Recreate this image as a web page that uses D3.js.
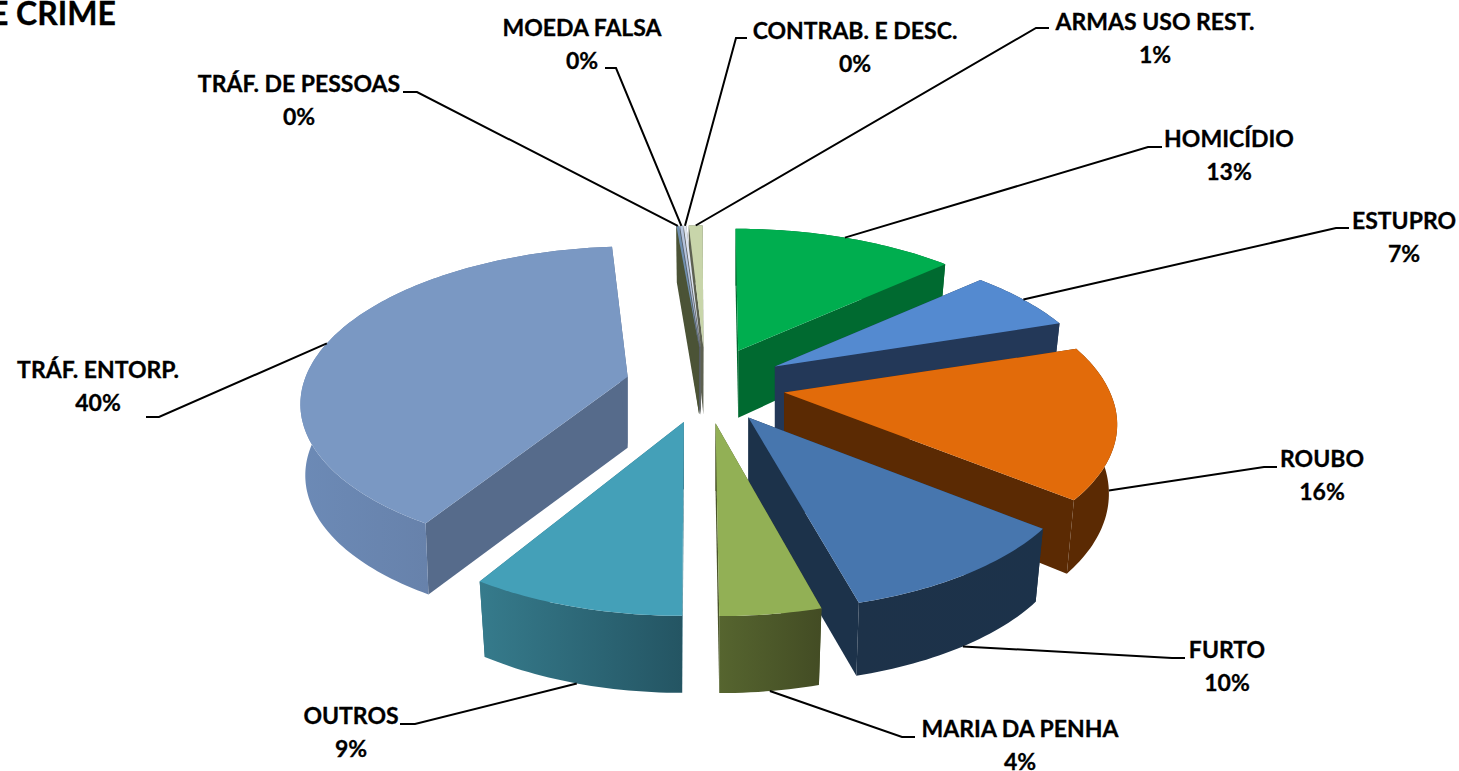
<!DOCTYPE html>
<html><head><meta charset="utf-8">
<script src="https://cdnjs.cloudflare.com/ajax/libs/d3/7.8.5/d3.min.js"></script>
<style>html,body{margin:0;padding:0;background:#fff;overflow:hidden}svg{display:block}
text{font-family:Lato,"Open Sans",sans-serif;font-weight:700;fill:#000;stroke:#000;stroke-width:.3px}</style>
</head><body><svg id="c" width="1459" height="771"></svg>
<script>
// ---- data ----
const categories = ["HOMICÍDIO","ESTUPRO","ROUBO","FURTO","MARIA DA PENHA","OUTROS","TRÁF. ENTORP.","TRÁF. DE PESSOAS","MOEDA FALSA","CONTRAB. E DESC.","ARMAS USO REST."];
const values = [13.4,6.6,16,10,4,8.75,39.9,0.17,0.17,0.17,0.84];
const titleText = "E CRIME";
// ---- style ----
const topColors = ["#00ae4f","#548ad0","#e26b0a","#4776ae","#92b055","#44a0b8","#7a98c3","#6f8fb0","#b4c3dc","#dfe5f0","#c8d5aa"];
const cutColors = ["#006a30","#233858","#5b2a03","#1c324a","#4a5429","#2f7082","#566b8b","#4b5336","#5a6070","#5f6360","#5d6150"];
const wallFrom  = ["#006a30","#233858","#5b2a03","#1d3249","#56652f","#367b8c","#6c8ab6","#4b5336","#5a6070","#5f6360","#5d6150"];
const wallTo    = ["#006a30","#233858","#5b2a03","#1c324a","#434c24","#245563","#60769b","#4b5336","#5a6070","#5f6360","#5d6150"];
// ---- label layout: [centre x, first line y, text end x, elbow x, elbow y] ----
const labelLayout = [
 [1229,147,1162,1148,147],[1404,229,1349,1336,228],[1322,467,1277,1264,467],[1227,658,1185,1172,658],
 [1020,737,915,902,737],[351,724,400,415,724],[98,378,146,159,417],[299,92,403,417,92],
 [582,36,605,616,68],[855,39,747,736,38],[1155,30,1049,1036,28]];
// ---- projection ----
const svg = d3.select("#c");
const CX = 705.5, CY = 385.5, VX = 690, EX = 80, EY = 38;
const BASE = {P:0.225,RY:149.5,RX:322};
const persp = i => i===6 ? {P:0.15,RY:150,RX:322} : i===2 ? {P:0.18,RY:149.5,RX:326} : i===5 ? {P:0.2,RY:155,RX:322} : BASE;
const depth = (i,z) => i===6 ? 71 : i===3 ? 73 : 67-10*z;
const pie = d3.pie().sort(null).value(d=>d);
const arcs = pie(values);
const pct = d3.scaleLinear().domain([0,d3.sum(values)]).range([0,100]);
function apex(m){return [CX+EX*Math.sin(m), CY-EY*Math.cos(m)];}
function project(i,m,a,r,xk,dep){
  const {P,RY,RX}=persp(i),[ax,ay]=apex(m),z=r*Math.cos(a),s=1/(1+P*z);
  const k = ax<VX ? 1 : (s>1 ? 0.5 : 0.3);
  const shift=(ax-VX)*(s-1)*k;
  return [ax+xk*RX*r*Math.sin(a)*s+shift, ay-RY*z*s+(dep?depth(i,z):0)];
}
const topPt=(i,m,a,r=1)=>project(i,m,a,r,1,false);
const botPt=(i,m,a,r=1)=>project(i,m,a,r,i===6?0.985:0.975,true);
const line = d3.line();
const defs = svg.append("defs");
function arcPts(f,i,m,a0,a1){const n=Math.max(2,Math.ceil(Math.abs(a1-a0)/0.02));
  return d3.range(n+1).map(k=>f(i,m,a0+(a1-a0)*k/n));}
const slices = arcs.map((d,i)=>({d,i,m:(d.startAngle+d.endAngle)/2}));
const order = slices.slice().sort((a,b)=>apex(a.m)[1]-apex(b.m)[1] || b.i-a.i);
const g = svg.append("g");
order.forEach(s=>{
  const {d,i,m}=s, a0=d.startAngle, a1=d.endAngle;
  const gid="w"+i;
  const lg=defs.append("linearGradient").attr("id",gid).attr("x1",0).attr("x2",1).attr("y1",0).attr("y2",0);
  lg.append("stop").attr("offset",0).attr("stop-color",wallFrom[i]);
  lg.append("stop").attr("offset",1).attr("stop-color",wallTo[i]);
  const A=topPt(i,m,0,0), Ab=botPt(i,m,0,0);
  [a0,a1].forEach(a=>{
    g.append("path").attr("d",line([A,topPt(i,m,a),botPt(i,m,a),Ab])+"Z").attr("fill",cutColors[i]);
  });
  g.append("path").attr("d",line(arcPts(topPt,i,m,a0,a1).concat(arcPts(botPt,i,m,a1,a0)))+"Z").attr("fill",`url(#${gid})`);
  g.append("path").attr("d",line([A].concat(arcPts(topPt,i,m,a0,a1)))+"Z").attr("fill",topColors[i]);
});
// leaders & labels
const FS = 23;
slices.forEach(({d,i,m})=>{
  const L=labelLayout[i];
  const front = m>Math.PI/2 && m<3*Math.PI/2;
  const anchor = front? botPt(i,m,m): topPt(i,m,m);
  svg.append("path").attr("d",line([[L[2],L[4]],[L[3],L[4]],anchor])).attr("fill","none").attr("stroke","#000").attr("stroke-width",2);
  const t=svg.append("text").attr("text-anchor","middle").attr("font-size",FS);
  t.append("tspan").attr("x",L[0]).attr("y",L[1]).text(categories[i]);
  t.append("tspan").attr("x",L[0]).attr("y",L[1]+33).text(Math.round(pct(d.value))+"%");
});
svg.append("text").attr("x",116).attr("y",25).attr("text-anchor","end").attr("font-size",32).text(titleText);
</script></body></html>
